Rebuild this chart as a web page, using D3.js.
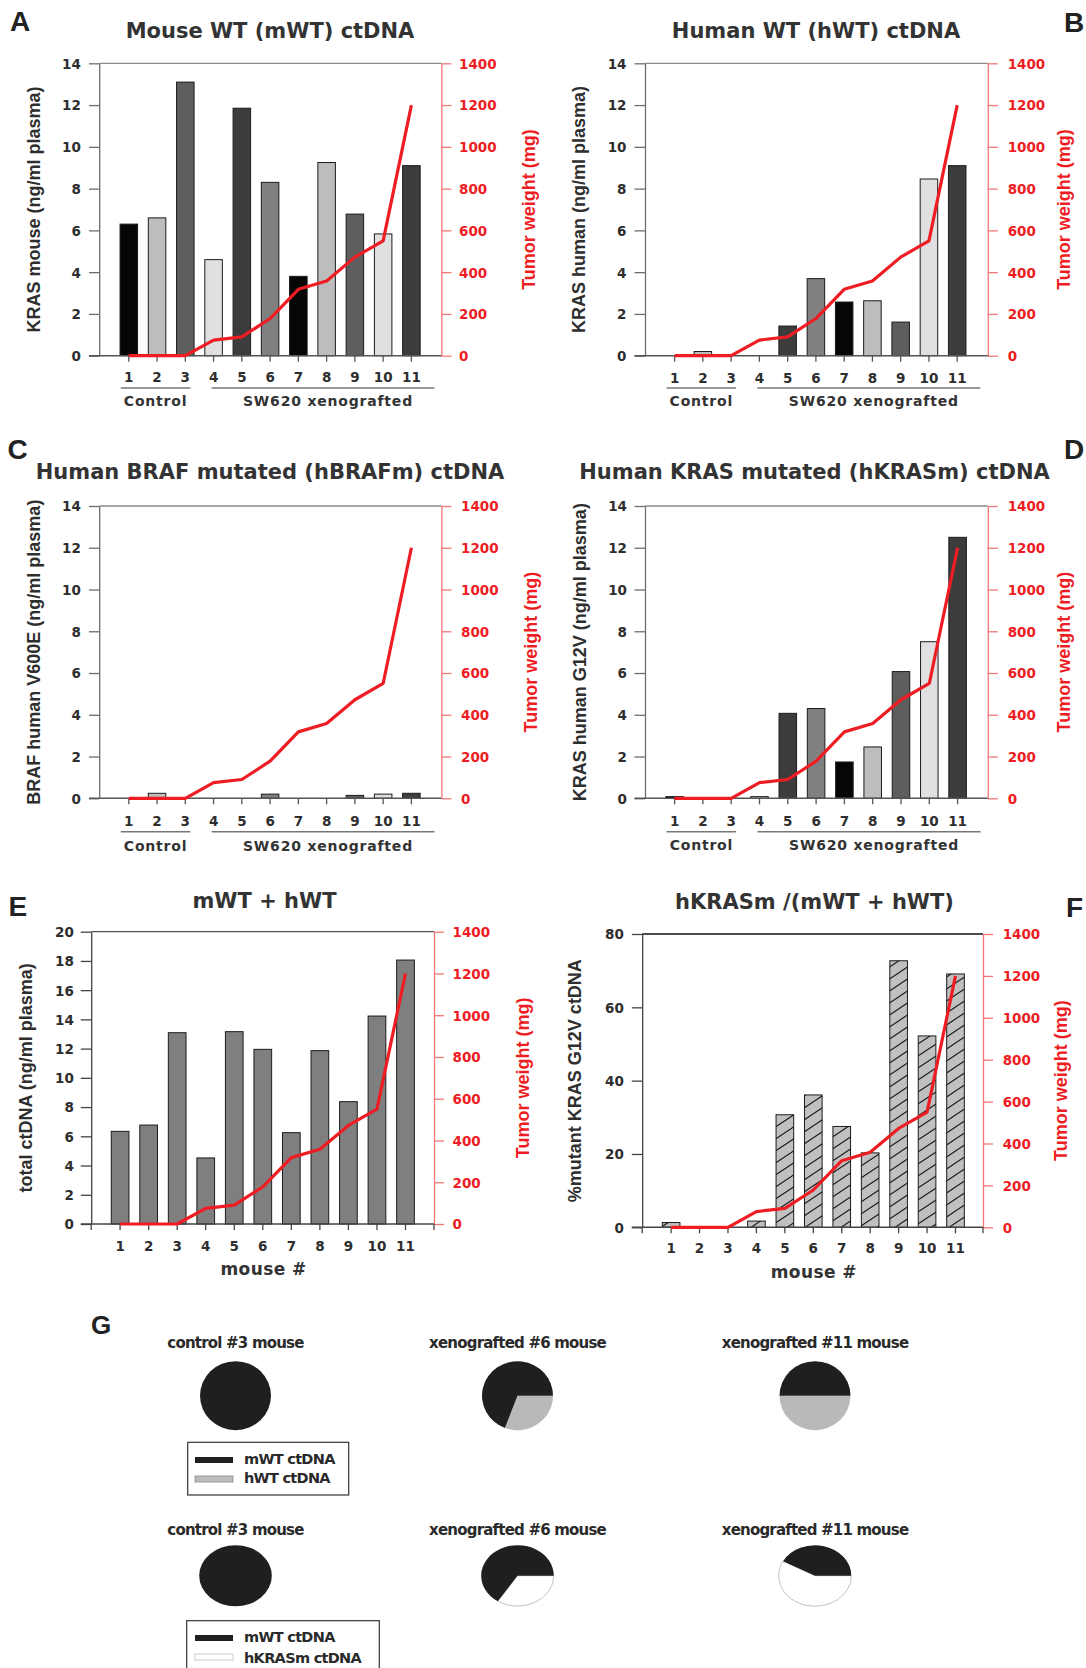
<!DOCTYPE html>
<html><head><meta charset="utf-8">
<script src="https://cdn.jsdelivr.net/npm/d3@7"></script>
<style>body{margin:0;background:#fff} svg{display:block}</style>
</head><body>
<svg id="fig" width="1086" height="1668"></svg>
<script>
// ---------------- data ----------------
const mice = ["1","2","3","4","5","6","7","8","9","10","11"];
const tumorWeight = [0,0,0,75,90,178,318,358,472,550,1200];
const mWT     = [6.3,6.6,13.1,4.6,11.85,8.3,3.8,9.25,6.78,5.83,9.1];
const hWT     = [0,0.2,0,0,1.42,3.69,2.57,2.63,1.61,8.46,9.1];
const hBRAFm  = [0,0.24,0,0,0,0.2,0,0,0.14,0.2,0.24];
const hKRASm  = [0.08,0,0,0.08,4.07,4.3,1.74,2.46,6.07,7.5,12.5];
const totalWT = [6.34,6.77,13.09,4.52,13.16,11.95,6.25,11.86,8.37,14.23,18.06];
const pctMutant = [1.3,0,0,1.7,30.7,36.1,27.5,20.3,72.7,52.2,69.1];
const ticks14 = [0,2,4,6,8,10,12,14];
const ticks20 = [0,2,4,6,8,10,12,14,16,18,20];
const ticks80 = [0,20,40,60,80];
const ticksTumor = [0,200,400,600,800,1000,1200,1400];
const groupNames = ["Control","SW620 xenografted"];
const groupRanges = [["1","3"],["4","11"]];
const pieMice = ["3","6","11"];
const pieTitles = ["control #3 mouse","xenografted #6 mouse","xenografted #11 mouse"];
const legendTop = ["mWT ctDNA","hWT ctDNA"];
const legendBottom = ["mWT ctDNA","hKRASm ctDNA"];

// ---------------- styles ----------------
const svg = d3.select("#fig");
const RED = "#ee1d24", AXRED = "#f47676", TXT = "#2e2e2e";
const VFONT = "'DejaVu Sans', Verdana, sans-serif";
const AFONT = "'Liberation Sans', Arial, sans-serif";
const shades = ["#060606","#bdbdbd","#5e5e5e","#e0e0e0","#3c3c3c","#808080"];
const fmt = d3.format("d");

const defs = svg.append("defs");
const pat = defs.append("pattern").attr("id","hatch").attr("patternUnits","userSpaceOnUse")
  .attr("width",18).attr("height",12);
pat.append("rect").attr("width",18).attr("height",12).attr("fill","#c0c0c0");
pat.append("path").attr("d","M0,12 L18,0 M-9,6 L9,-6 M9,18 L27,6")
  .attr("stroke","#1a1a1a").attr("stroke-width",1.1);

function drawPanel(p) {
  const g = svg.append("g");
  const step = (p.c11 - p.c1) / (mice.length - 1);
  const x = d3.scaleBand().domain(mice).range([p.c1 - step/2, p.c11 + step/2])
    .paddingInner(0.38).paddingOuter(0.19);
  const cx = m => x(m) + x.bandwidth()/2;
  const y = d3.scaleLinear().domain([0, p.yMax]).range([p.bottom, p.top]);
  const yR = d3.scaleLinear().domain([0, 1400]).range([p.bottom, p.top]);

  g.append("line").attr("x1", p.left).attr("x2", p.right).attr("y1", p.top).attr("y2", p.top)
    .attr("stroke", p.frameColor).attr("stroke-width", 1.3);

  const bd = mice.map((m,i) => ({m, v: p.values[i], i})).filter(d => d.v > 0);
  g.selectAll("rect.bar").data(bd).join("rect").attr("class","bar")
    .attr("x", d => x(d.m)).attr("width", x.bandwidth())
    .attr("y", d => y(d.v)).attr("height", d => p.bottom - y(d.v))
    .attr("fill", d => p.fill(d.i)).attr("stroke", "#1c1c1c").attr("stroke-width", 1);

  const la = g.append("g").attr("transform", `translate(${p.left},0)`)
    .call(d3.axisLeft(y).tickValues(p.yTicks).tickFormat(fmt).tickSize(p.left - p.tickL).tickSizeOuter(0));
  la.select(".domain").attr("stroke", p.axisColor).attr("stroke-width", 1.3);
  la.selectAll(".tick line").attr("stroke", p.axisColor).attr("stroke-width", 1.3);
  la.selectAll(".tick text").attr("x", -(p.left - p.labR)).attr("dy", "0.36em")
    .attr("font-family", VFONT).attr("font-weight", "bold").attr("font-size", 13.5).attr("fill", TXT);

  const ra = g.append("g").attr("transform", `translate(${p.right},0)`)
    .call(d3.axisRight(yR).tickValues(ticksTumor).tickFormat(fmt).tickSize(10).tickSizeOuter(0));
  ra.select(".domain").attr("stroke", AXRED).attr("stroke-width", 1.3);
  ra.selectAll(".tick line").attr("stroke", AXRED).attr("stroke-width", 1.3);
  ra.selectAll(".tick text").attr("x", p.rLabL - p.right).attr("dy", "0.36em")
    .attr("font-family", VFONT).attr("font-weight", "bold").attr("font-size", 13.5).attr("fill", RED);

  g.append("line").attr("x1", p.tickL).attr("x2", p.right).attr("y1", p.bottom).attr("y2", p.bottom)
    .attr("stroke", p.baseColor).attr("stroke-width", 1.4);
  const ba = g.append("g").attr("transform", `translate(0,${p.bottom})`)
    .call(d3.axisBottom(x).tickSize(6).tickSizeOuter(0));
  ba.select(".domain").remove();
  ba.selectAll(".tick line").attr("stroke", p.baseColor).attr("stroke-width", 1.3);
  ba.selectAll(".tick text").attr("y", p.xLabY - p.bottom).attr("dy", 0)
    .attr("font-family", VFONT).attr("font-weight", "bold").attr("font-size", 13.5).attr("fill", TXT);
  if (p.endTicks) {
    [p.left, p.right].forEach(xx => g.append("line").attr("x1", xx).attr("x2", xx)
      .attr("y1", p.bottom).attr("y2", p.bottom + 6).attr("stroke", p.baseColor).attr("stroke-width", 1.3));
  }

  const line = d3.line().x(d => cx(d.m)).y(d => yR(d.w));
  g.append("path").datum(mice.map((m,i) => ({m, w: tumorWeight[i]})))
    .attr("d", line).attr("fill", "none").attr("stroke", RED).attr("stroke-width", 3.2)
    .attr("stroke-linejoin", "round");

  const mid = (p.top + p.bottom) / 2;
  g.append("text").attr("transform", `translate(${p.yLabX},${mid}) rotate(-90)`)
    .attr("text-anchor", "middle").attr("dy", "0.36em")
    .attr("font-family", AFONT).attr("font-weight", "bold").attr("font-size", 18).attr("fill", TXT)
    .text(p.yLabel);
  g.append("text").attr("transform", `translate(${p.rLabX},${mid}) rotate(-90)`)
    .attr("text-anchor", "middle").attr("dy", "0.36em")
    .attr("font-family", AFONT).attr("font-weight", "bold").attr("font-size", 18).attr("fill", RED)
    .text("Tumor weight (mg)");

  g.append("text").attr("x", p.titleX).attr("y", p.titleY).attr("text-anchor", "middle")
    .attr("font-family", VFONT).attr("font-weight", "bold").attr("font-size", 21).attr("fill", "#333")
    .text(p.title);
  g.append("text").attr("x", p.letterX).attr("y", p.letterY)
    .attr("font-family", AFONT).attr("font-weight", "bold").attr("font-size", 28).attr("fill", "#222")
    .text(p.letter);

  if (p.groups) {
    const offs = [[-8, 5, 0], [-2, 23, 5]];
    groupNames.forEach((name, k) => {
      const x1 = cx(groupRanges[k][0]) + offs[k][0], x2 = cx(groupRanges[k][1]) + offs[k][1];
      g.append("line").attr("x1", x1).attr("x2", x2).attr("y1", p.grpY).attr("y2", p.grpY)
        .attr("stroke", "#777").attr("stroke-width", 1.5);
      g.append("text").attr("x", (x1 + x2)/2 + offs[k][2]).attr("y", p.grpLabY).attr("text-anchor", "middle")
        .attr("font-family", VFONT).attr("font-weight", "bold").attr("font-size", 14)
        .attr("letter-spacing", "0.8px").attr("fill", "#333").text(name);
    });
  }
  if (p.xTitle) {
    g.append("text").attr("x", p.xTitleX).attr("y", p.xTitleY).attr("text-anchor", "middle")
      .attr("font-family", VFONT).attr("font-weight", "bold").attr("font-size", 17)
      .attr("letter-spacing", "0.4px").attr("fill", "#333").text(p.xTitle);
  }
}

const shadeFill = i => shades[i % shades.length];
const commonAD = {yMax:14, yTicks:ticks14, fill:shadeFill, axisColor:"#6e6e6e", baseColor:"#555",
  frameColor:"#8a8a8a", groups:true};

drawPanel(Object.assign({}, commonAD, {title:"Mouse WT (mWT) ctDNA", titleX:270, titleY:37.5,
  letter:"A", letterX:10, letterY:30.5, left:99.2, right:441.4, top:63.3, bottom:355.7, c1:128.8, c11:411.4,
  tickL:89, labR:80.8, rLabL:459, values:mWT, yLabel:"KRAS mouse (ng/ml plasma)", yLabX:34, rLabX:529,
  xLabY:382, grpY:388, grpLabY:406}));
drawPanel(Object.assign({}, commonAD, {title:"Human WT (hWT) ctDNA", titleX:816, titleY:37.5,
  letter:"B", letterX:1064, letterY:31.5, left:645, right:987.8, top:63.3, bottom:355.7, c1:674.6, c11:957.2,
  tickL:634.5, labR:626.5, rLabL:1007.7, values:hWT, yLabel:"KRAS human (ng/ml plasma)", yLabX:579, rLabX:1064,
  xLabY:383, grpY:388, grpLabY:406}));
drawPanel(Object.assign({}, commonAD, {title:"Human BRAF mutated (hBRAFm) ctDNA", titleX:270, titleY:479,
  letter:"C", letterX:7.5, letterY:459, left:99.2, right:441.4, top:506, bottom:798.3, c1:128.8, c11:411.4,
  tickL:89, labR:80.8, rLabL:461, values:hBRAFm, yLabel:"BRAF human V600E (ng/ml plasma)", yLabX:34, rLabX:531,
  xLabY:826, grpY:831.7, grpLabY:851}));
drawPanel(Object.assign({}, commonAD, {title:"Human KRAS mutated (hKRASm) ctDNA", titleX:814.5, titleY:478.5,
  letter:"D", letterX:1064, letterY:459, left:645, right:987.8, top:506, bottom:798.3, c1:674.6, c11:957.6,
  tickL:634.5, labR:627, rLabL:1007.7, values:hKRASm, yLabel:"KRAS human G12V (ng/ml plasma)", yLabX:580, rLabX:1064,
  xLabY:826, grpY:831.7, grpLabY:850}));
drawPanel({title:"mWT + hWT", titleX:264.5, titleY:908.3, letter:"E", letterX:8.5, letterY:916,
  left:91.2, right:434, top:931.7, bottom:1224, c1:120.1, c11:405.5, tickL:80.8, labR:73.8, rLabL:452.5,
  values:totalWT, yMax:20, yTicks:ticks20, fill:() => "#7f7f7f", axisColor:"#444", baseColor:"#444",
  frameColor:"#555", yLabel:"total ctDNA (ng/ml plasma)", yLabX:26, rLabX:523,
  xLabY:1250.7, endTicks:true, xTitle:"mouse #", xTitleX:263.5, xTitleY:1275});
drawPanel({title:"hKRASm /(mWT + hWT)", titleX:814.5, titleY:909, letter:"F", letterX:1066, letterY:916.7,
  left:642.2, right:983, top:934, bottom:1227.3, c1:671.1, c11:955.5, tickL:631.8, labR:623.8, rLabL:1002.7,
  values:pctMutant, yMax:80, yTicks:ticks80, fill:() => "url(#hatch)", axisColor:"#444", baseColor:"#444",
  frameColor:"#111", yLabel:"%mutant KRAS G12V ctDNA", yLabX:575, rLabX:1061,
  xLabY:1253, endTicks:true, xTitle:"mouse #", xTitleX:813.8, xTitleY:1278});

// ---------------- G: pies ----------------
svg.append("text").attr("x", 91).attr("y", 1334).attr("font-family", AFONT).attr("font-weight", "bold")
  .attr("font-size", 26).attr("fill", "#222").text("G");

const pieX = [235.5, 517.5, 815];
const rows = [
  {cy:1395.7, rx:35.5, ry:34.5, labY:1348, other:hWT, otherFill:"#b9b9bb", otherStroke:"none",
   legend:legendTop, box:[187.7,1442.3,161,52.7], swY:[1457,1476], txtY:[1464,1483.3], sw2Fill:"#bcbcbe", sw2Stroke:"#9a9a9a"},
  {cy:1575.7, rx:36.3, ry:30.5, labY:1535, other:hKRASm, otherFill:"#ffffff", otherStroke:"#c4c4c4",
   legend:legendBottom, box:[186.7,1620.7,192.6,60], swY:[1635,1654], txtY:[1641.7,1663.3], sw2Fill:"#ffffff", sw2Stroke:"#cccccc"}
];
const pie = d3.pie().sort(null).value(d => d.v).startAngle(Math.PI/2).endAngle(Math.PI/2 + 2*Math.PI);
const arc = d3.arc().innerRadius(0).outerRadius(1);
rows.forEach(r => {
  pieMice.forEach((m, k) => {
    const idx = mice.indexOf(m);
    const data = [{k:"other", v:r.other[idx]}, {k:"mWT", v:mWT[idx]}];
    const g = svg.append("g").attr("transform", `translate(${pieX[k]},${r.cy}) scale(${r.rx},${r.ry})`);
    g.selectAll("path").data(pie(data).filter(d => d.data.v > 0)).join("path")
      .attr("d", arc)
      .attr("fill", d => d.data.k === "mWT" ? "#1f1f1f" : r.otherFill)
      .attr("stroke", d => d.data.k === "mWT" ? "none" : r.otherStroke)
      .attr("stroke-width", 1).attr("vector-effect", "non-scaling-stroke");
    svg.append("text").attr("x", pieX[k]).attr("y", r.labY).attr("text-anchor", "middle")
      .attr("font-family", VFONT).attr("font-weight", "bold").attr("font-size", 15)
      .attr("letter-spacing", "-0.8px").attr("fill", "#2a2a2a").text(pieTitles[k]);
  });
  svg.append("rect").attr("x", r.box[0]).attr("y", r.box[1]).attr("width", r.box[2]).attr("height", r.box[3])
    .attr("fill", "none").attr("stroke", "#333").attr("stroke-width", 1.2);
  r.legend.forEach((t, j) => {
    svg.append("rect").attr("x", 195).attr("y", r.swY[j]).attr("width", 38).attr("height", 6)
      .attr("fill", j === 0 ? "#1f1f1f" : r.sw2Fill).attr("stroke", j === 0 ? "none" : r.sw2Stroke);
    svg.append("text").attr("x", 244).attr("y", r.txtY[j]).attr("font-family", VFONT).attr("font-weight", "bold")
      .attr("font-size", 14.5).attr("letter-spacing", "-0.7px").attr("fill", "#2a2a2a").text(t);
  });
});
</script>
</body></html>
